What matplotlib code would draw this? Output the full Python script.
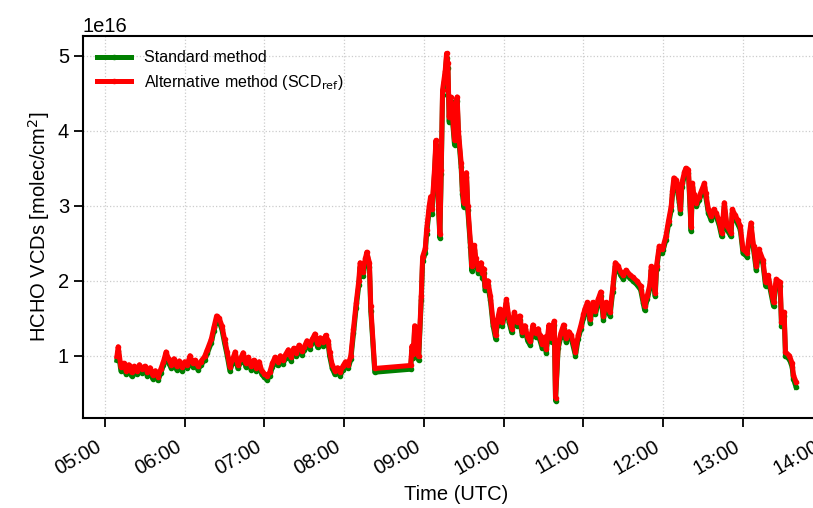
import numpy as np
import pandas as pd
import matplotlib

matplotlib.use("agg")
import matplotlib.pyplot as plt
import matplotlib.dates as mdates

plt.rcParams["font.family"] = ["Liberation Sans", "DejaVu Sans"]

# sample times (UTC) and HCHO vertical columns in units of 1e16 molec/cm2
times = [
    "05:09", "05:10", "05:12", "05:14", "05:16", "05:18", "05:20", "05:22", "05:24", "05:26", "05:28", "05:30",
    "05:32", "05:34", "05:36", "05:38", "05:40", "05:42", "05:44", "05:46", "05:48", "05:50", "05:52", "05:54",
    "05:56", "05:58", "06:00", "06:02", "06:04", "06:06", "06:08", "06:10", "06:12", "06:15", "06:17", "06:20",
    "06:22", "06:24", "06:26", "06:28", "06:30", "06:32", "06:34", "06:36", "06:38", "06:40", "06:42", "06:44",
    "06:46", "06:48", "06:50", "06:52", "06:54", "06:56", "06:58", "07:00", "07:02", "07:04", "07:06", "07:08",
    "07:10", "07:12", "07:14", "07:16", "07:18", "07:20", "07:22", "07:24", "07:26", "07:28", "07:30", "07:32",
    "07:34", "07:36", "07:38", "07:40", "07:42", "07:44", "07:46", "07:48", "07:49", "07:51", "07:53", "07:55",
    "07:57", "07:59", "08:01", "08:03", "08:05", "08:07", "08:09", "08:11", "08:12", "08:14", "08:16", "08:17",
    "08:19", "08:20", "08:23", "08:50", "08:51", "08:52", "08:53", "08:55", "08:56", "08:58", "08:59", "09:01",
    "09:02", "09:04", "09:05", "09:06", "09:08", "09:09", "09:10", "09:11", "09:12", "09:13", "09:14", "09:16",
    "09:17", "09:18", "09:19", "09:20", "09:21", "09:23", "09:24", "09:25", "09:26", "09:28", "09:29", "09:30",
    "09:31", "09:32", "09:33", "09:35", "09:36", "09:38", "09:39", "09:41", "09:43", "09:44", "09:45", "09:46",
    "09:48", "09:50", "09:52", "09:54", "09:55", "09:57", "09:59", "10:01", "10:02", "10:04", "10:06", "10:08",
    "10:10", "10:12", "10:14", "10:16", "10:18", "10:20", "10:22", "10:24", "10:26", "10:27", "10:29", "10:31",
    "10:32", "10:34", "10:36", "10:37", "10:38", "10:39", "10:41", "10:43", "10:45", "10:47", "10:49", "10:51",
    "10:54", "10:56", "10:58", "11:00", "11:01", "11:03", "11:05", "11:07", "11:09", "11:11", "11:13", "11:15",
    "11:17", "11:19", "11:20", "11:22", "11:24", "11:26", "11:28", "11:30", "11:32", "11:35", "11:37", "11:40",
    "11:43", "11:45", "11:46", "11:48", "11:50", "11:51", "11:53", "11:54", "11:55", "11:57", "11:59", "12:00",
    "12:02", "12:04", "12:06", "12:07", "12:08", "12:10", "12:12", "12:13", "12:14", "12:16", "12:17", "12:19",
    "12:21", "12:22", "12:23", "12:25", "12:27", "12:29", "12:31", "12:32", "12:34", "12:36", "12:38", "12:40",
    "12:42", "12:44", "12:46", "12:48", "12:51", "12:52", "12:54", "12:56", "12:58", "13:00", "13:03", "13:06",
    "13:08", "13:10", "13:12", "13:15", "13:17", "13:19", "13:23", "13:25", "13:28", "13:29", "13:31", "13:32",
    "13:35", "13:37", "13:38", "13:40",
]

vcd_standard = [
    0.94, 1.06, 0.80, 0.85, 0.75, 0.83, 0.73, 0.81, 0.75, 0.83, 0.77, 0.81,
    0.73, 0.79, 0.69, 0.75, 0.67, 0.77, 0.87, 0.99, 0.90, 0.83, 0.91, 0.81,
    0.88, 0.80, 0.87, 0.83, 0.95, 0.85, 0.89, 0.81, 0.87, 0.94, 1.03, 1.17,
    1.33, 1.47, 1.45, 1.35, 1.17, 1.00, 0.80, 0.90, 1.00, 0.83, 0.91, 0.99,
    0.85, 0.93, 0.81, 0.89, 0.79, 0.87, 0.75, 0.71, 0.68, 0.73, 0.85, 0.93,
    0.87, 0.95, 0.89, 0.97, 1.03, 0.93, 1.05, 0.99, 1.09, 1.01, 1.07, 1.15,
    1.09, 1.17, 1.24, 1.11, 1.19, 1.13, 1.22, 1.15, 1.00, 0.83, 0.75, 0.79,
    0.73, 0.81, 0.87, 0.83, 0.95, 1.30, 1.64, 1.94, 2.18, 2.06, 2.24, 2.32,
    2.18, 1.60, 0.78, 0.82, 1.08, 0.97, 1.35, 1.15, 0.94, 1.74, 2.26, 2.37,
    2.62, 2.94, 3.06, 2.89, 3.44, 3.81, 3.54, 2.94, 2.57, 3.42, 4.48, 4.74,
    4.97, 4.84, 4.12, 4.39, 4.24, 3.81, 4.30, 4.39, 3.93, 3.51, 3.15, 2.98,
    3.14, 3.38, 2.94, 2.45, 2.13, 2.41, 2.24, 2.10, 2.18, 2.04, 2.10, 1.87,
    1.94, 1.74, 1.40, 1.22, 1.40, 1.57, 1.40, 1.57, 1.70, 1.45, 1.31, 1.53,
    1.40, 1.48, 1.27, 1.35, 1.20, 1.14, 1.36, 1.25, 1.31, 1.22, 1.10, 1.20,
    1.04, 1.36, 1.18, 1.30, 1.41, 0.40, 1.10, 1.25, 1.36, 1.18, 1.27, 1.22,
    1.00, 1.22, 1.35, 1.50, 1.57, 1.66, 1.44, 1.66, 1.55, 1.70, 1.80, 1.48,
    1.66, 1.59, 1.53, 1.85, 2.19, 2.15, 2.07, 2.02, 2.09, 2.03, 2.00, 1.95,
    1.88, 1.70, 1.61, 1.75, 1.90, 2.14, 1.93, 1.79, 2.15, 2.41, 2.37, 2.41,
    2.54, 2.75, 2.94, 3.15, 3.32, 3.29, 3.05, 2.90, 3.25, 3.40, 3.45, 3.43,
    2.66, 3.25, 3.10, 2.99, 3.07, 3.16, 3.25, 3.12, 2.90, 2.81, 2.90, 2.85,
    2.75, 2.59, 2.99, 2.68, 2.59, 2.90, 2.83, 2.76, 2.68, 2.37, 2.32, 2.72,
    2.41, 2.14, 2.37, 2.23, 1.93, 2.02, 1.66, 1.97, 1.93, 1.40, 1.53, 1.00,
    0.95, 0.85, 0.69, 0.58,
]

vcd_alternative = [
    0.99, 1.12, 0.85, 0.90, 0.80, 0.88, 0.78, 0.86, 0.80, 0.88, 0.82, 0.86,
    0.78, 0.84, 0.74, 0.80, 0.72, 0.82, 0.92, 1.05, 0.95, 0.88, 0.96, 0.86,
    0.93, 0.85, 0.92, 0.88, 1.00, 0.90, 0.94, 0.86, 0.92, 0.99, 1.08, 1.22,
    1.38, 1.53, 1.50, 1.40, 1.22, 1.05, 0.85, 0.95, 1.05, 0.88, 0.96, 1.04,
    0.90, 0.98, 0.86, 0.94, 0.84, 0.92, 0.80, 0.76, 0.73, 0.78, 0.90, 0.98,
    0.92, 1.00, 0.94, 1.02, 1.08, 0.98, 1.10, 1.04, 1.14, 1.06, 1.12, 1.20,
    1.14, 1.22, 1.29, 1.16, 1.24, 1.18, 1.27, 1.20, 1.05, 0.88, 0.80, 0.84,
    0.78, 0.86, 0.92, 0.88, 1.00, 1.36, 1.70, 2.00, 2.24, 2.12, 2.30, 2.38,
    2.24, 1.66, 0.83, 0.87, 1.13, 1.02, 1.40, 1.20, 0.99, 1.80, 2.32, 2.43,
    2.68, 3.00, 3.12, 2.95, 3.50, 3.87, 3.60, 3.00, 2.62, 3.48, 4.54, 4.80,
    5.03, 4.90, 4.18, 4.45, 4.30, 3.87, 4.36, 4.45, 3.99, 3.57, 3.21, 3.04,
    3.20, 3.44, 3.00, 2.51, 2.19, 2.47, 2.30, 2.16, 2.24, 2.10, 2.16, 1.93,
    2.00, 1.80, 1.45, 1.27, 1.45, 1.62, 1.45, 1.62, 1.75, 1.50, 1.36, 1.58,
    1.45, 1.53, 1.32, 1.40, 1.25, 1.19, 1.41, 1.30, 1.36, 1.27, 1.15, 1.25,
    1.09, 1.41, 1.23, 1.35, 1.46, 0.44, 1.15, 1.30, 1.41, 1.23, 1.32, 1.27,
    1.05, 1.27, 1.40, 1.55, 1.62, 1.71, 1.49, 1.71, 1.60, 1.75, 1.85, 1.53,
    1.71, 1.64, 1.58, 1.90, 2.24, 2.20, 2.12, 2.07, 2.14, 2.08, 2.05, 2.00,
    1.93, 1.75, 1.66, 1.80, 1.95, 2.19, 1.98, 1.84, 2.20, 2.46, 2.42, 2.46,
    2.59, 2.80, 2.99, 3.20, 3.37, 3.34, 3.10, 2.95, 3.30, 3.45, 3.50, 3.48,
    2.72, 3.30, 3.15, 3.04, 3.12, 3.21, 3.30, 3.17, 2.95, 2.86, 2.95, 2.90,
    2.80, 2.64, 3.04, 2.73, 2.64, 2.95, 2.88, 2.81, 2.73, 2.42, 2.37, 2.77,
    2.46, 2.19, 2.42, 2.28, 1.98, 2.07, 1.71, 2.02, 1.98, 1.45, 1.58, 1.05,
    1.00, 0.90, 0.74, 0.65,
]

t = pd.to_datetime(["2017-06-01 " + s for s in times])
std = np.array(vcd_standard) * 1e16
alt = np.array(vcd_alternative) * 1e16

fig = plt.figure(figsize=(8.13, 5.08), dpi=100)
ax = fig.add_axes([0.102, 0.177, 0.919, 0.752])

ax.plot(t, std, color="green", lw=3.6, marker="o", ms=3, label="Standard method")
ax.plot(t, alt, color="red", lw=3.6, marker="o", ms=3,
        label=r"Alternative method (SCD$_{\rm ref}$)")

ax.xaxis.set_major_locator(mdates.HourLocator())
ax.xaxis.set_major_formatter(mdates.DateFormatter("%H:%M"))
plt.setp(ax.get_xticklabels(), rotation=30, ha="right")

ax.grid(True, ls=":", color="#cccccc", lw=0.9)
ax.tick_params(labelsize=14.5, length=6.5, width=1.3)
ax.tick_params(axis="x", pad=7)
ax.yaxis.get_offset_text().set_fontsize(14.5)
for sp in ax.spines.values():
    sp.set_linewidth(1.5)

ax.set_xlabel("Time (UTC)", fontsize=14.5, labelpad=5)
ax.set_ylabel(r"HCHO VCDs [molec/cm$^2$]", fontsize=14.5)
ax.legend(loc="upper left", frameon=False, fontsize=11.5, handlelength=2.1,
          borderaxespad=0.5, labelspacing=0.45)

fig.savefig("out.png", dpi=100)
